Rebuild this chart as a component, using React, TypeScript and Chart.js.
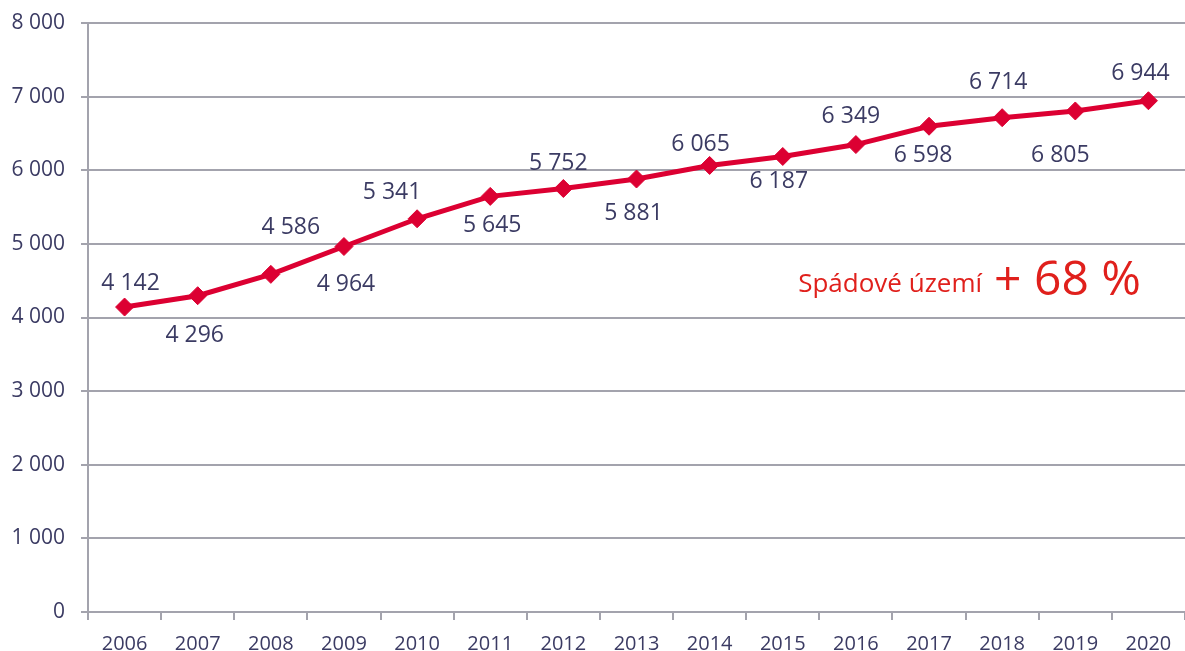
import React, { useEffect, useRef } from "react";
import { Chart, registerables } from "chart.js";

Chart.register(...registerables);

const years = ["2006","2007","2008","2009","2010","2011","2012","2013","2014","2015","2016","2017","2018","2019","2020"];
const population = [4142, 4296, 4586, 4964, 5341, 5645, 5752, 5881, 6065, 6187, 6349, 6598, 6714, 6805, 6944];
const annotationLabel = "Spádové území";
const annotationValue = "+ 68 %";

// label placement (styling only)
const labelDx = [6, -3, 20, 2, -25, 2, -5, -3, -9, -4, -5, -6, -4, -15, -8];
const labelDy = [-24, 40, -47, 38, -26, 29, -25, 34, -21, 25, -28, 29, -35, 44, -27];

const TEXT = "#3b3b63";
const GRID = "#a3a3ad";
const RED = "#dc0032";
const FONT = "'Open Sans', 'Noto Sans', sans-serif";

const fmt = (v: number) => String(v).replace(/\B(?=(\d{3})+(?!\d))/g, " ");

const labelsPlugin = {
  id: "pointLabels",
  afterDatasetsDraw(chart: any) {
    const ctx = chart.ctx;
    const meta = chart.getDatasetMeta(0);
    ctx.save();
    ctx.font = `23px ${FONT}`;
    ctx.fillStyle = TEXT;
    ctx.textAlign = "center";
    ctx.textBaseline = "middle";
    meta.data.forEach((pt: any, i: number) => {
      ctx.fillText(fmt(population[i]), pt.x + labelDx[i], pt.y + labelDy[i]);
    });
    // annotation
    const yS = chart.scales.y;
    const area = chart.chartArea;
    const baseY = yS.getPixelForValue(4300);
    ctx.fillStyle = "#e0201c";
    ctx.textBaseline = "alphabetic";
    ctx.textAlign = "right";
    ctx.font = `48px ${FONT}`;
    const rightX = area.right - 44;
    ctx.fillText(annotationValue, rightX, baseY);
    const w = ctx.measureText(annotationValue).width;
    ctx.font = `26px ${FONT}`;
    ctx.fillText(annotationLabel, rightX - w - 12, baseY - 3);
    ctx.restore();
  },
};

export default function App() {
  const ref = useRef<HTMLCanvasElement>(null);
  useEffect(() => {
    if (!ref.current) return;
    const chart = new Chart(ref.current, {
      type: "line",
      data: {
        labels: years,
        datasets: [
          {
            data: population,
            borderColor: RED,
            backgroundColor: RED,
            borderWidth: 5,
            pointStyle: "rectRot",
            pointRadius: 9,
            pointBorderWidth: 1,
            pointBackgroundColor: RED,
            pointBorderColor: RED,
            tension: 0,
          },
        ],
      },
      options: {
        responsive: false,
        animation: false,
        layout: { padding: { top: 23, right: 1, left: 0, bottom: 0 } },
        plugins: { legend: { display: false }, tooltip: { enabled: false } },
        scales: {
          x: {
            offset: true,
            grid: { offset: true, drawOnChartArea: false, color: GRID, lineWidth: 2, tickLength: 8 },
            border: { display: false },
            ticks: { color: TEXT, font: { family: FONT, size: 20 }, padding: 12, maxRotation: 0, autoSkip: false },
            afterFit: (s: any) => { s.height = 39; s.paddingRight = 0; s.paddingLeft = 0; },
          },
          y: {
            min: 0,
            max: 8000,
            ticks: { stepSize: 1000, color: TEXT, font: { family: FONT, size: 21 }, padding: 16, callback: (v: any) => fmt(Number(v)) },
            grid: { color: GRID, lineWidth: 2, tickLength: 7 },
            border: { color: GRID, width: 2 },
            afterFit: (s: any) => { s.width = 88; s.paddingTop = 0; s.paddingBottom = 0; },
          },
        },
      },
      plugins: [labelsPlugin],
    });
    return () => chart.destroy();
  }, []);
  return (
    <div style={{ position: "fixed", left: 0, top: 0, width: 1185, height: 651, overflow: "hidden", background: "#fff" }}>
      <canvas ref={ref} width={1195} height={651} style={{ width: 1195, height: 651, display: "block" }} />
    </div>
  );
}
